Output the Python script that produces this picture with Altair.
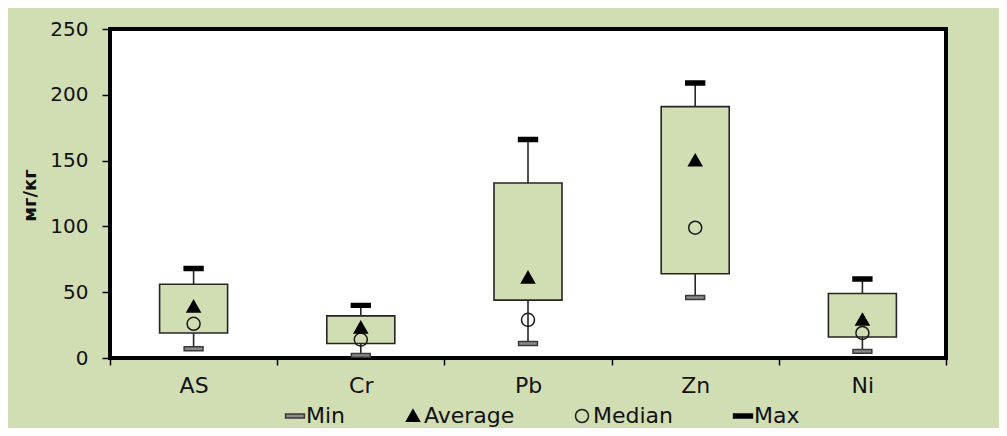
import altair as alt
import pandas as pd

cats = ["AS", "Cr", "Pb", "Zn", "Ni"]
mins = [7, 2, 11, 46, 5]
q1s = [19, 11, 44, 64, 16]
q3s = [56, 32, 133, 191, 49]
maxs = [68, 40, 166, 209, 60]
avgs = [39, 23, 61, 150, 29]
medians = [26, 14, 29, 99, 19]
stats = ["Min", "Average", "Median", "Max"]
y_ticks = [0, 50, 100, 150, 200, 250]

box_df = pd.DataFrame({"cat": cats, "min": mins, "q1": q1s, "q3": q3s, "max": maxs})
rows = []
for i, c in enumerate(cats):
    rows.append({"cat": c, "stat": "Min", "value": mins[i]})
    rows.append({"cat": c, "stat": "Max", "value": maxs[i]})
    rows.append({"cat": c, "stat": "Median", "value": medians[i]})
    rows.append({"cat": c, "stat": "Average", "value": avgs[i]})
pt_df = pd.DataFrame(rows)

GREEN = "#d1deb4"
FONT = "DejaVu Sans"
TXT = "#111111"
W, H = 836, 329

xscale = alt.Scale(domain=cats, paddingInner=0, paddingOuter=0)
yscale = alt.Scale(domain=[0, 250], nice=False, zero=True)

xaxis = alt.Axis(title=None, labelAngle=0, tickBand="extent", domain=False,
                 tickSize=7, tickColor="black", tickWidth=1.5,
                 labelFont=FONT, labelFontSize=22, labelColor=TXT,
                 labelPadding=10, zindex=1)
yaxis = alt.Axis(title="мг/кг", values=y_ticks, grid=False, domain=False,
                 tickSize=8, tickColor="black", tickWidth=1.5,
                 labelFont=FONT, labelFontSize=20, labelColor=TXT,
                 labelPadding=14, titleFont=FONT, titleFontSize=18,
                 titleFontWeight="bold", titleColor=TXT,
                 titleX=-80, titleY=166, titleBaseline="middle", zindex=1)

base = alt.Chart(box_df)

boxes = base.mark_bar(size=68, fill=GREEN, stroke="#262626", strokeWidth=1.6).encode(
    x=alt.X("cat:N", scale=xscale, axis=xaxis, sort=cats),
    y=alt.Y("q1:Q", scale=yscale, axis=yaxis),
    y2="q3:Q",
)
upper = base.mark_rule(stroke="#262626", strokeWidth=1.6).encode(
    x=alt.X("cat:N", scale=xscale, sort=cats), y="q3:Q", y2="max:Q")
lower = base.mark_rule(stroke="#262626", strokeWidth=1.6).encode(
    x=alt.X("cat:N", scale=xscale, sort=cats), y="min:Q", y2="q1:Q")

dash = "M-1.45,-0.3L1.45,-0.3L1.45,0.3L-1.45,0.3Z"
tri = "M0,-0.95L1,0.8L-1,0.8Z"
leg = alt.Legend(title=None)

points = alt.Chart(pt_df).mark_point(size=169, strokeWidth=1.5, opacity=1).encode(
    x=alt.X("cat:N", scale=xscale, sort=cats),
    y=alt.Y("value:Q", scale=yscale),
    shape=alt.Shape("stat:N", scale=alt.Scale(domain=stats, range=[dash, tri, "circle", dash]), legend=leg),
    fill=alt.Fill("stat:N", scale=alt.Scale(domain=stats, range=["#8a8a8a", "black", "transparent", "black"]), legend=leg),
    stroke=alt.Stroke("stat:N", scale=alt.Scale(domain=stats, range=["#3a3a3a", "black", "#1a1a1a", "black"]), legend=leg),
)

chart = alt.layer(boxes, upper, lower, points).properties(
    width=W, height=H,
    padding={"left": 102, "top": 21, "right": 53, "bottom": 70},
    autosize=alt.AutoSizeParams(type="none"),
).configure(background=GREEN).configure_view(
    fill="white", stroke="black", strokeWidth=4
).configure_legend(
    orient="none", legendX=174, legendY=376, direction="horizontal",
    columnPadding=56, labelOffset=0, symbolSize=169, padding=0,
    labelFont=FONT, labelFontSize=22, labelColor=TXT,
    symbolStrokeWidth=1.5, symbolOpacity=1,
)

chart.save("out.html", embed_options={"renderer": "svg", "actions": False})
